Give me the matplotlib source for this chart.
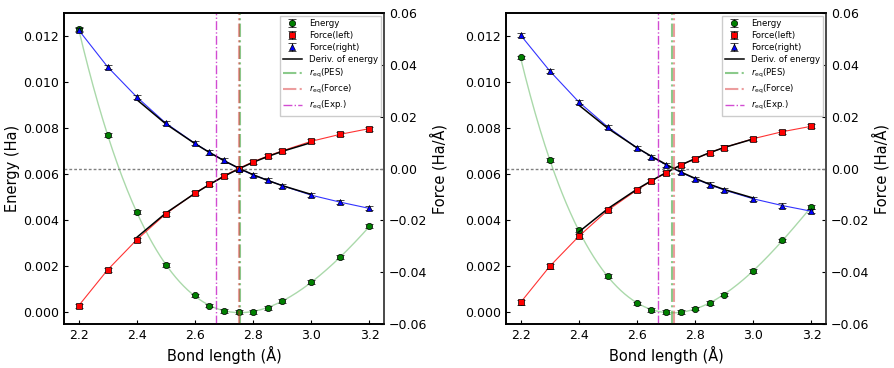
import numpy as np
import matplotlib
matplotlib.use("Agg")
import matplotlib.pyplot as plt

# ---------------- data ----------------
bond = [2.2, 2.3, 2.4, 2.5, 2.6, 2.65, 2.7, 2.75, 2.8, 2.85, 2.9, 3.0, 3.1, 3.2]
bond_deriv = [2.4, 2.5, 2.6, 2.65, 2.7, 2.75, 2.8, 2.85, 2.9, 3.0]

# left panel
energy_L = [0.01232, 0.00771, 0.00435, 0.00207, 0.00074, 0.00030, 0.00007,
            0.00001, 0.00003, 0.00020, 0.00050, 0.00133, 0.00240, 0.00374]
fleft_L = [-0.0530, -0.0391, -0.0275, -0.0175, -0.0095, -0.0061, -0.0028,
           0.0000, 0.0026, 0.0048, 0.0068, 0.0105, 0.0132, 0.0154]
fright_L = [0.0535, 0.0392, 0.0276, 0.0175, 0.0097, 0.0062, 0.0031,
            0.0000, -0.0025, -0.0045, -0.0066, -0.0103, -0.0130, -0.0154]
deriv_L = [-0.0266, -0.0172, -0.0096, -0.0062, -0.0030, -0.0002,
           0.0024, 0.0046, 0.0066, 0.0100]
req_L = {"PES": 2.756, "Force": 2.753, "Exp": 2.673}

# right panel
energy_R = [0.01107, 0.00663, 0.00358, 0.00157, 0.00039, 0.00012, 0.00001,
            0.00001, 0.00017, 0.00042, 0.00078, 0.00180, 0.00313, 0.00459]
fleft_R = [-0.0517, -0.0378, -0.0262, -0.0161, -0.0083, -0.0048, -0.0017,
           0.0013, 0.0037, 0.0061, 0.0081, 0.0115, 0.0142, 0.0163]
fright_R = [0.0515, 0.0377, 0.0257, 0.0160, 0.0080, 0.0046, 0.0014,
            -0.0014, -0.0040, -0.0062, -0.0083, -0.0117, -0.0143, -0.0165]
deriv_R = [-0.0245, -0.0155, -0.0080, -0.0047, -0.0016, 0.0013,
           0.0038, 0.0061, 0.0081, 0.0114]
req_R = {"PES": 2.722, "Force": 2.727, "Exp": 2.673}

energy_err = 0.00008
force_err = 0.0008

FS = 9
LFS = 10.5
plt.rcParams['font.family'] = ['DejaVu Sans']

fig = plt.figure(figsize=(8.94, 3.68), dpi=100)


def panel(rect, energy, fleft, fright, deriv, req, energy_label=True):
    ax = fig.add_axes(rect)
    ax2 = ax.twinx()
    x = np.array(bond)
    e = np.array(energy)
    # fitted energy curve (polynomial fit of the data points)
    coef = np.polyfit(x, e, 6)
    xf = np.linspace(x.min(), x.max(), 300)
    ax.plot(xf, np.polyval(coef, xf), color='tab:green', alpha=0.4, lw=1, zorder=1)
    h_e = ax.errorbar(x, e, yerr=energy_err, fmt='o', color='green', mec='black',
                      mew=0.5, ms=4.5, ecolor='black', elinewidth=0.8, capsize=3,
                      capthick=0.8, label='Energy', zorder=3)

    ax2.plot(x, fleft, color='red', lw=0.8, alpha=0.8, zorder=1)
    ax2.plot(x, fright, color='blue', lw=0.8, alpha=0.8, zorder=1)
    ax2.plot(bond_deriv, deriv, color='black', lw=1.1, zorder=2)
    h_d, = ax2.plot(bond_deriv, -np.array(deriv), color='black', lw=1.1, zorder=2,
                    label='Deriv. of energy')
    h_l = ax2.errorbar(x, fleft, yerr=force_err, fmt='s', color='red', mec='black',
                       mew=0.5, ms=4.5, ecolor='black', elinewidth=0.8, capsize=3,
                       capthick=0.8, label='Force(left)', zorder=3)
    h_r = ax2.errorbar(x, fright, yerr=force_err, fmt='^', color='blue', mec='black',
                       mew=0.5, ms=4.5, ecolor='black', elinewidth=0.8, capsize=3,
                       capthick=0.8, label='Force(right)', zorder=3)
    ax2.axhline(0, color='gray', ls='--', lw=1, dashes=(2, 1.5))
    h_p = ax2.axvline(req["PES"], color='tab:green', ls='-.', lw=1.5, alpha=0.55,
                      label=r'$r_{\rm eq}$(PES)')
    h_f = ax2.axvline(req["Force"], color='tab:red', ls='-.', lw=1.5, alpha=0.45,
                      label=r'$r_{\rm eq}$(Force)')
    h_x = ax2.axvline(req["Exp"], color='m', ls='-.', lw=1, alpha=0.7,
                      label=r'$r_{\rm eq}$(Exp.)')

    ax.set_xlim(2.15, 3.25)
    ax.set_ylim(-0.0005, 0.013)
    ax2.set_ylim(-0.06, 0.06)
    ax.set_xticks([2.2, 2.4, 2.6, 2.8, 3.0, 3.2])
    ax.set_yticks([0.0, 0.002, 0.004, 0.006, 0.008, 0.010, 0.012])
    ax2.set_yticks([-0.06, -0.04, -0.02, 0.0, 0.02, 0.04, 0.06])
    ax.tick_params(direction='in', labelsize=FS, length=3)
    ax2.tick_params(direction='in', labelsize=FS, length=3)
    ax.set_xlabel('Bond length (Å)', fontsize=LFS, labelpad=3)
    if energy_label:
        ax.set_ylabel('Energy (Ha)', fontsize=LFS, labelpad=2)
    ax2.set_ylabel('Force (Ha/Å)', fontsize=LFS, labelpad=2)
    for sp in ax.spines.values():
        sp.set_linewidth(1.2)
    for sp in ax2.spines.values():
        sp.set_linewidth(1.2)
    ax2.spines['right'].set_color('#555555')
    handles = [h_e, h_l, h_r, h_d, h_p, h_f, h_x]
    labels = [h.get_label() for h in handles]
    leg = ax2.legend(handles, labels, loc='upper right', fontsize=6.2,
                     fancybox=False, edgecolor='#cccccc', framealpha=1,
                     handlelength=2.2, borderaxespad=0.3, labelspacing=0.35,
                     handletextpad=0.8, borderpad=0.4)
    leg.set_zorder(10)
    return ax, ax2


W, H = 894.0, 368.0
panel([64 / W, 44 / H, 320 / W, 311 / H], energy_L, fleft_L, fright_L, deriv_L, req_L)
panel([506 / W, 44 / H, 320 / W, 311 / H], energy_R, fleft_R, fright_R, deriv_R, req_R,
      energy_label=False)

fig.savefig('out.png', dpi=100)
